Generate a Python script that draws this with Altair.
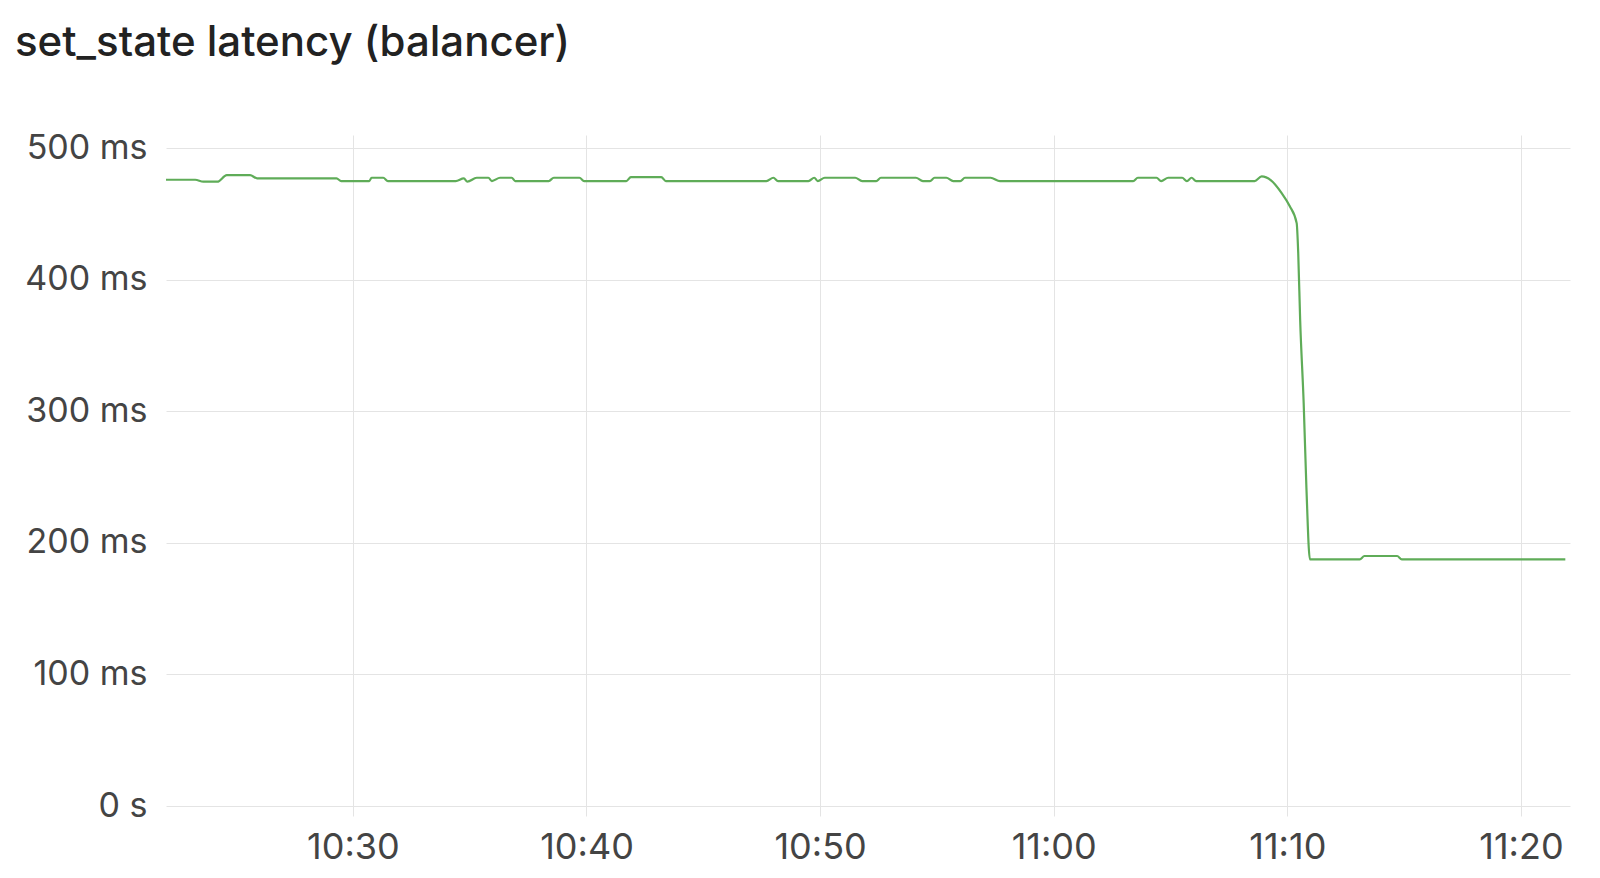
import altair as alt
import pandas as pd

# minutes after 10:22:00 and latency in ms
minutes = [
    0.0, 1.25, 1.6, 2.2, 2.6, 3.6, 3.9, 7.3, 7.5, 8.7, 8.8, 9.3, 9.5, 12.4,
    12.75, 12.9, 13.3, 13.8, 13.95, 14.3, 14.8, 14.95, 16.4, 16.6, 17.7, 17.9,
    19.7, 19.9, 21.2, 21.4, 25.7, 26.0, 26.2, 27.5, 27.75, 27.9, 28.2, 29.5,
    29.8, 30.4, 30.6, 32.1, 32.4, 32.7, 32.9, 33.4, 33.7, 34.0, 34.2, 35.3,
    35.7, 41.4, 41.6, 42.4, 42.6, 42.9, 43.5, 43.7, 43.9, 44.1, 46.6, 46.9,
    47.3, 47.75, 48.1, 48.4, 48.47, 48.55, 48.7, 48.83, 48.98, 51.1, 51.3,
    52.7, 52.9, 59.9,
]
latency_ms = [
    476, 476, 474.5, 474.5, 479.5, 479.5, 477, 477, 475, 475, 477.5, 477.5, 475, 475,
    477, 474.5, 477.5, 477.5, 475, 477.5, 477.5, 475, 475, 477.5, 477.5, 475,
    475, 478, 478, 475, 475, 477.5, 475, 475, 477.5, 475, 477.5, 477.5,
    475, 475, 477.5, 477.5, 475, 475, 477.5, 477.5, 475, 475, 477.5, 477.5,
    475, 475, 477.5, 477.5, 475, 477.5, 477.5, 475, 477.5, 475, 475, 478.5,
    475.5, 466, 456, 443, 420, 369, 306, 242, 187.5, 187.5, 190,
    190, 187.5, 187.5,
]
y_ticks = [0, 100, 200, 300, 400, 500]
x_tick_labels = ["10:30", "10:40", "10:50", "11:00", "11:10", "11:20"]

start = pd.Timestamp("2024-01-01 10:22:00")
df = pd.DataFrame({
    "time": [(start + pd.Timedelta(minutes=m)).strftime("%Y-%m-%dT%H:%M:%S") for m in minutes],
    "latency": latency_ms,
})

x_values = [
    alt.DateTime(year=2024, month=1, date=1, hours=int(s[:2]), minutes=int(s[3:]))
    for s in x_tick_labels
]

FONT = "Inter"
LABEL_COLOR = "#444444"
GRID = "#e4e4e4"

chart = alt.Chart(df).mark_line(
    color="#5fac58", strokeWidth=2.2, interpolate="monotone"
).encode(
    x=alt.X(
        "time:T",
        title=None,
        scale=alt.Scale(domain=[
            alt.DateTime(year=2024, month=1, date=1, hours=10, minutes=22),
            alt.DateTime(year=2024, month=1, date=1, hours=11, minutes=22, seconds=6),
        ]),
        axis=alt.Axis(
            values=x_values, format="%H:%M", grid=True, gridColor=GRID,
            domain=False, ticks=True, tickColor=GRID, tickSize=10,
            labelFontSize=36, labelColor=LABEL_COLOR, labelFont=FONT,
            labelPadding=14, labelFlush=False,
        ),
    ),
    y=alt.Y(
        "latency:Q",
        title=None,
        scale=alt.Scale(domain=[0, 510], nice=False),
        axis=alt.Axis(
            values=y_ticks,
            labelExpr="datum.value == 0 ? '0 s' : datum.value + ' ms'",
            grid=True, gridColor=GRID, domain=False, ticks=False,
            labelFontSize=34, labelColor=LABEL_COLOR, labelFont=FONT,
            labelPadding=19,
        ),
    ),
).properties(
    width=1404,
    height=671,
    padding={"left": 158, "top": 127, "right": 10, "bottom": 62},
    autosize=alt.AutoSizeParams(type="none"),
    title=alt.Title(
        "set_state latency (balancer)", anchor="start", frame="group",
        dx=-151, offset=66, fontSize=42, font=FONT, fontWeight=500,
        color="#222222",
    ),
).configure_view(stroke=None)

chart.save("out.html", embed_options={"renderer": "svg", "actions": False})
